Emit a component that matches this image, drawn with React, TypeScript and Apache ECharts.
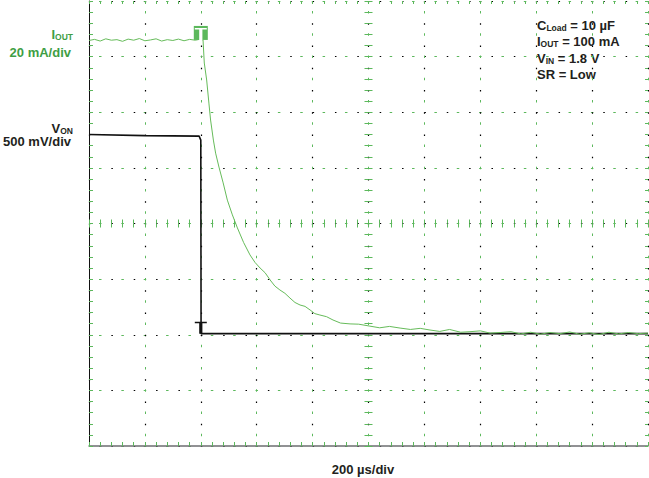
import React, { useEffect, useRef } from 'react';
import * as echarts from 'echarts';

// ---- data ----
const timeRange = [0, 2000]; // µs, 200 µs/div
const timeStep = 200;
const ioutRange = [-40, 120]; // mA, 20 mA/div
const ioutStep = 20;
const vonRange = [-1, 3]; // V, 500 mV/div
const vonStep = 0.5;

const ioutTime = [0, 20, 40, 60, 80, 100, 120, 140, 160, 180, 200, 220, 240, 260, 280, 300, 320, 340, 360, 380, 400, 408,
  412.5, 421, 429, 435, 445, 453, 465, 480, 495, 513, 531,
  553, 576, 594, 612, 630, 648, 665, 683, 701, 719, 737, 755, 773, 791, 808, 826,
  850, 873, 900, 934, 965, 1005, 1040, 1075, 1113, 1150, 1185, 1220, 1255, 1290, 1330, 1363, 1400, 1435, 1471, 1510,
  1545, 1580, 1615, 1649, 1685, 1720, 1755, 1790, 1825, 1860, 1895, 1930, 1965, 2000];
const ioutValue = [105.8, 106.2, 105.6, 106.4, 105.9, 106.1, 105.5, 106.3, 105.9, 106.5, 105.7, 106.0, 106.4, 105.6, 106.1, 105.8, 106.3, 105.7, 106.2, 105.9, 106.3, 106.0,
  97.7, 91.6, 83.3, 77.2, 70.0, 65.3, 60.3, 54.6, 48.4, 43.1, 38.4,
  33.2, 28.7, 26.0, 24.0, 22.3, 19.7, 17.5, 16.1, 14.9, 13.2, 11.6, 10.7, 10.2, 8.9, 7.6, 7.1,
  6.5, 5.3, 4.2, 3.9, 3.8, 3.1, 2.5, 3.0, 2.4, 1.9, 2.3, 1.7, 1.2, 1.9, 0.9, 1.1, 1.4, 0.6, 0.8, 1.1,
  0.3, 0.9, 0.2, 0.8, 0.4, 1.0, 0.2, 0.7, 0.1, 0.9, 0.3, 0.8, 0.4, 0.6];

const vonTime = [0, 200, 394, 400, 401, 2000];
const vonValue = [1.8, 1.79, 1.785, 1.75, 0.01, 0.01];

const triggerTime = 400;
const ioutMarkerLevel = 106.0;
const vonMarkerLevel = 0.01;

// ---- styles ----
const GRID_GREEN = '#5cb85c';
const TRACE_GREEN = '#66bb5a';
const LABEL_GREEN = '#3e9e44';
const DARK = '#231f20';
const FONT = "'Liberation Sans', Arial, Helvetica, sans-serif";

const tPath = 'path://M0,0H12V1.5H7.6V12H4.4V1.5H0Z';

function sub(main: string, subText: string, color: string) {
  return {
    text: `{a|${main}}{b|${subText}}`,
    rich: {
      a: { fontSize: 13, fontWeight: 'bold', fontFamily: FONT, fill: color, lineHeight: 14 },
      b: { fontSize: 8.5, fontWeight: 'bold', fontFamily: FONT, fill: color, lineHeight: 5, verticalAlign: 'bottom' },
    },
  };
}

export default function App() {
  const ref = useRef<HTMLDivElement>(null);
  useEffect(() => {
    document.body.style.margin = '0';
    if (!ref.current) return;
    const chart = echarts.init(ref.current, undefined, { renderer: 'svg' });
    const hidden = { show: false };
    const tickStyle = { color: GRID_GREEN, width: 1 };

    const option: any = {
      animation: false,
      grid: { left: 89, right: 1, top: 1, bottom: 32 },
      xAxis: [
        {
          type: 'value', min: timeRange[0], max: timeRange[1], interval: timeStep, position: 'bottom',
          axisLine: { show: true, onZero: false, lineStyle: { color: '#6d6e71', width: 1.5 } },
          axisTick: { show: true, inside: true, length: 4, lineStyle: tickStyle },
          minorTick: { show: true, splitNumber: 5, length: 4, lineStyle: tickStyle },
          axisLabel: hidden,
          splitLine: { show: true, lineStyle: { color: '#000', width: 1.2, type: [1.5, 20.75] } },
        },
        {
          type: 'value', min: timeRange[0], max: timeRange[1], interval: timeStep, position: 'top',
          axisLine: { show: false, onZero: false },
          axisTick: { show: true, inside: true, length: 3, lineStyle: tickStyle },
          minorTick: { show: true, splitNumber: 5, length: 3, lineStyle: tickStyle },
          axisLabel: hidden,
          splitLine: { show: true, lineStyle: { color: GRID_GREEN, width: 1, type: [2.5, 19.75], dashOffset: -10 } },
        },
        { type: 'value', min: -5, max: 5, show: false },
        {
          type: 'value', min: -5, max: 5, interval: 1, position: 'bottom',
          axisLine: { show: false, onZero: true, onZeroAxisIndex: 2 },
          axisTick: { show: true, inside: true, length: 4, lineStyle: tickStyle },
          minorTick: { show: true, splitNumber: 5, length: 4, lineStyle: tickStyle },
          axisLabel: hidden, splitLine: hidden,
        },
        {
          type: 'value', min: -5, max: 5, interval: 1, position: 'bottom',
          axisLine: { show: false, onZero: true, onZeroAxisIndex: 2 },
          axisTick: { show: true, inside: false, length: 4, lineStyle: tickStyle },
          minorTick: { show: true, splitNumber: 5, length: 4, lineStyle: tickStyle },
          axisLabel: hidden, splitLine: hidden,
        },
      ],
      yAxis: [
        {
          type: 'value', min: ioutRange[0], max: ioutRange[1], interval: ioutStep, position: 'left',
          axisLine: { show: true, onZero: false, lineStyle: { color: '#111', width: 1 } },
          axisTick: { show: true, inside: true, length: 4, lineStyle: tickStyle },
          minorTick: { show: true, splitNumber: 5, length: 4, lineStyle: tickStyle },
          axisLabel: hidden,
          splitLine: { show: true, lineStyle: { color: '#000', width: 1.2, type: [1.5, 20.86] } },
        },
        {
          type: 'value', min: vonRange[0], max: vonRange[1], interval: vonStep, position: 'right',
          axisLine: { show: false, onZero: false },
          axisTick: { show: true, inside: true, length: 3, lineStyle: tickStyle },
          minorTick: { show: true, splitNumber: 5, length: 3, lineStyle: tickStyle },
          axisLabel: hidden,
          splitLine: { show: true, lineStyle: { color: GRID_GREEN, width: 1, type: [2.5, 19.86], dashOffset: -10 } },
        },
        { type: 'value', min: -4, max: 4, show: false },
        {
          type: 'value', min: -4, max: 4, interval: 1, position: 'left',
          axisLine: { show: false, onZero: true, onZeroAxisIndex: 2 },
          axisTick: { show: true, inside: true, length: 4, lineStyle: tickStyle },
          minorTick: { show: true, splitNumber: 5, length: 4, lineStyle: tickStyle },
          axisLabel: hidden, splitLine: hidden,
        },
        {
          type: 'value', min: -4, max: 4, interval: 1, position: 'left',
          axisLine: { show: false, onZero: true, onZeroAxisIndex: 2 },
          axisTick: { show: true, inside: false, length: 4, lineStyle: tickStyle },
          minorTick: { show: true, splitNumber: 5, length: 4, lineStyle: tickStyle },
          axisLabel: hidden, splitLine: hidden,
        },
      ],
      series: [
        {
          type: 'line', name: 'VON', xAxisIndex: 0, yAxisIndex: 1, z: 3,
          data: vonTime.map((t, i) => [t, vonValue[i]]),
          symbol: 'none', silent: true,
          lineStyle: { color: '#111', width: 1.6 },
          markPoint: {
            silent: true, label: { show: false },
            data: [{
              coord: [triggerTime, vonMarkerLevel], symbol: tPath, symbolSize: [12, 12], symbolOffset: [0, -6],
              itemStyle: { color: '#111' },
            }],
          },
        },
        {
          type: 'line', name: 'IOUT', xAxisIndex: 0, yAxisIndex: 0, z: 4,
          data: ioutTime.map((t, i) => [t, ioutValue[i]]),
          symbol: 'none', silent: true,
          lineStyle: { color: TRACE_GREEN, width: 1 },
          markPoint: {
            silent: true, label: { show: false },
            data: [
              {
                coord: [triggerTime, ioutMarkerLevel], symbol: 'rect', symbolSize: [14, 14], symbolOffset: [0, -7],
                itemStyle: { color: GRID_GREEN },
              },
              {
                coord: [triggerTime, ioutMarkerLevel], symbol: tPath, symbolSize: [12, 12], symbolOffset: [0, -6],
                itemStyle: { color: '#ffffff' },
              },
            ],
          },
        },
      ],
      graphic: [
        { type: 'text', x: 73, y: 34, style: { ...sub('I', 'OUT', LABEL_GREEN), align: 'right', verticalAlign: 'middle' } },
        { type: 'text', x: 71, y: 52, style: { text: '20 mA/div', font: `bold 13px ${FONT}`, fill: LABEL_GREEN, align: 'right', verticalAlign: 'middle' } },
        { type: 'text', x: 73, y: 128, style: { ...sub('V', 'ON', DARK), align: 'right', verticalAlign: 'middle' } },
        { type: 'text', x: 71, y: 141.5, style: { text: '500 mV/div', font: `bold 13px ${FONT}`, fill: DARK, align: 'right', verticalAlign: 'middle' } },
        { type: 'text', x: 537, y: 25, style: { ...sub('C', 'Load', DARK), text: '{a|C}{b|Load}{a| = 10 µF}', align: 'left', verticalAlign: 'middle' } },
        { type: 'text', x: 537, y: 41.5, style: { ...sub('I', 'OUT', DARK), text: '{a|I}{b|OUT}{a| = 100 mA}', align: 'left', verticalAlign: 'middle' } },
        { type: 'text', x: 537, y: 58, style: { ...sub('V', 'IN', DARK), text: '{a|V}{b|IN}{a| = 1.8 V}', align: 'left', verticalAlign: 'middle' } },
        { type: 'text', x: 537, y: 74.7, style: { text: 'SR = Low', font: `bold 13px ${FONT}`, fill: DARK, align: 'left', verticalAlign: 'middle' } },
        { type: 'text', x: 363, y: 469, style: { text: '200 µs/div', font: `bold 13px ${FONT}`, fill: DARK, align: 'center', verticalAlign: 'middle' } },
      ],
    };
    chart.setOption(option);
    return () => chart.dispose();
  }, []);
  return <div ref={ref} style={{ width: 649, height: 478 }} />;
}
